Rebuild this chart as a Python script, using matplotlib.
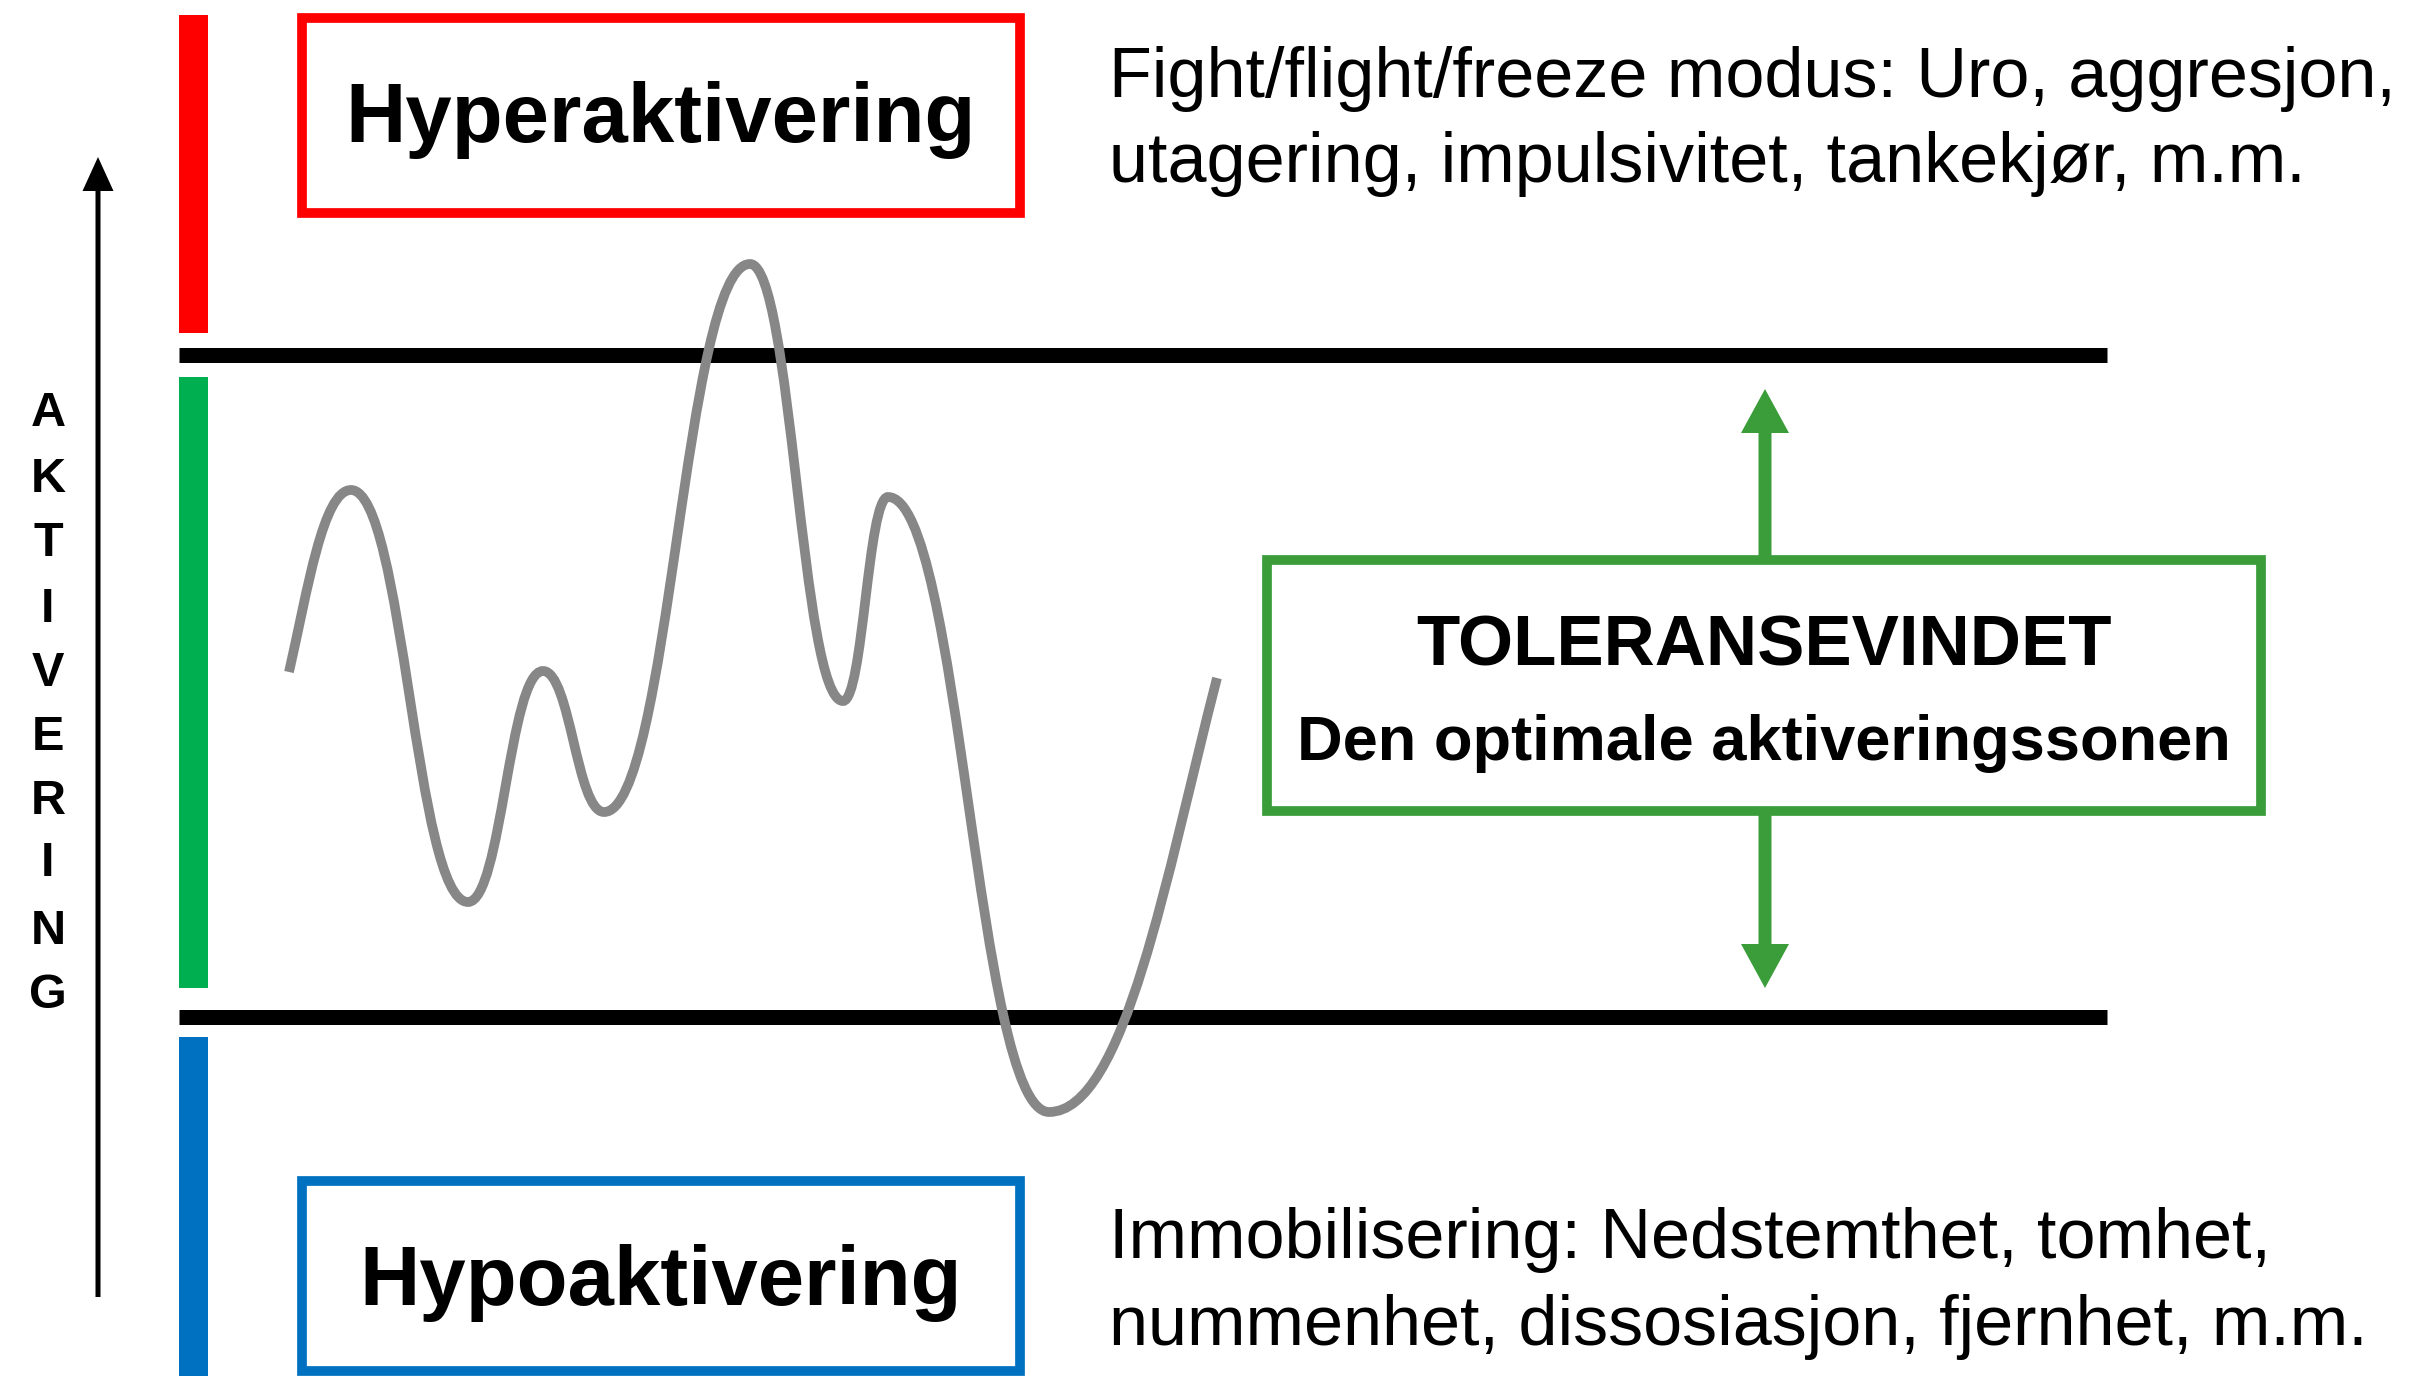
import matplotlib.pyplot as plt
from matplotlib.path import Path
from matplotlib.patches import PathPatch, Rectangle

plt.rcParams['font.family'] = ['Liberation Sans', 'DejaVu Sans']

# wave through the window of tolerance (turning points, in picture pixels)
wave_x = [289, 351, 468, 543, 604, 750, 843, 888, 1049, 1217]
wave_y = [672, 490, 902, 671, 812, 264, 701, 497, 1112, 678]

axis_letters = list('AKTIVERING')
hyper_label = 'Hyperaktivering'
hypo_label = 'Hypoaktivering'
hyper_text = ['Fight/flight/freeze modus: Uro, aggresjon,',
              'utagering, impulsivitet, tankekjør, m.m.']
hypo_text = ['Immobilisering: Nedstemthet, tomhet,',
             'nummenhet, dissosiasjon, fjernhet, m.m.']
window_title = 'TOLERANSEVINDET'
window_sub = 'Den optimale aktiveringssonen'

red = '#ff0000'
green_bar = '#00b050'
blue = '#0070c0'
green = '#3a9d3a'
grey = '#878787'

fig = plt.figure(figsize=(24.17, 13.76), dpi=100)
ax = fig.add_axes([0, 0, 1, 1])
ax.set_xlim(0, 2417)
ax.set_ylim(1376, 0)
ax.axis('off')

# coloured zone bars on the left
ax.add_patch(Rectangle((179, 15), 29, 318, color=red, lw=0))
ax.add_patch(Rectangle((179, 377), 29, 611, color=green_bar, lw=0))
ax.add_patch(Rectangle((179, 1037), 29, 345, color=blue, lw=0))

# limits of the window
for yy in [355, 1017]:
    ax.plot([179, 2107], [yy, yy], color='black', lw=10.8, solid_capstyle='butt')

# activation arrow + vertical letters
ax.arrow(98, 1297, 0, -1140, width=5, head_width=31, head_length=34,
         length_includes_head=True, color='black', lw=0)
letter_y = [413, 479, 543, 609, 674, 738, 801, 864, 931, 996]
for ch, yy in zip(axis_letters, letter_y):
    ax.text(48, yy, ch, fontsize=35, fontweight='bold', ha='center', va='center')

# boxes
ax.add_patch(Rectangle((302, 18), 718, 195, fill=False, ec=red, lw=7))
ax.text(661, 142, hyper_label, fontsize=60, fontweight='bold', ha='center', va='baseline')
ax.add_patch(Rectangle((302, 1181), 718, 190, fill=False, ec=blue, lw=7))
ax.text(661, 1305, hypo_label, fontsize=60, fontweight='bold', ha='center', va='baseline')

ax.add_patch(Rectangle((1267, 560), 994, 251, fill=False, ec=green, lw=7))
ax.text(1764, 666, window_title, fontsize=51, fontweight='bold', ha='center', va='baseline')
ax.text(1764, 760, window_sub, fontsize=45.5, fontweight='bold', ha='center', va='baseline')

ax.arrow(1765, 556, 0, -167, width=13, head_width=48, head_length=44,
         length_includes_head=True, color=green, lw=0)
ax.arrow(1765, 815, 0, 173, width=13, head_width=48, head_length=44,
         length_includes_head=True, color=green, lw=0)

# descriptions on the right
for yy, line in zip([97, 182], hyper_text):
    ax.text(1109, yy, line, fontsize=50.5, ha='left', va='baseline')
for yy, line in zip([1258, 1345], hypo_text):
    ax.text(1109, yy, line, fontsize=50.5, ha='left', va='baseline')

# smooth wave: cubic bezier between turning points
verts = [(wave_x[0], wave_y[0])]
codes = [Path.MOVETO]
n = len(wave_x)
for i in range(n - 1):
    x0, y0 = wave_x[i], wave_y[i]
    x1, y1 = wave_x[i + 1], wave_y[i + 1]
    dx = x1 - x0
    if i == 0:
        c1 = (x0 + 0.3 * dx, y0 + 0.45 * (y1 - y0))
    else:
        c1 = (x0 + 0.45 * dx, y0)
    if i == n - 2:
        c2 = (x1 - 0.3 * dx, y1 - 0.45 * (y1 - y0))
    else:
        c2 = (x1 - 0.45 * dx, y1)
    verts += [c1, c2, (x1, y1)]
    codes += [Path.CURVE4] * 3
ax.add_patch(PathPatch(Path(verts, codes), fill=False, ec=grey, lw=7,
                       capstyle='butt', zorder=3))

plt.savefig('out.png', dpi=100)
